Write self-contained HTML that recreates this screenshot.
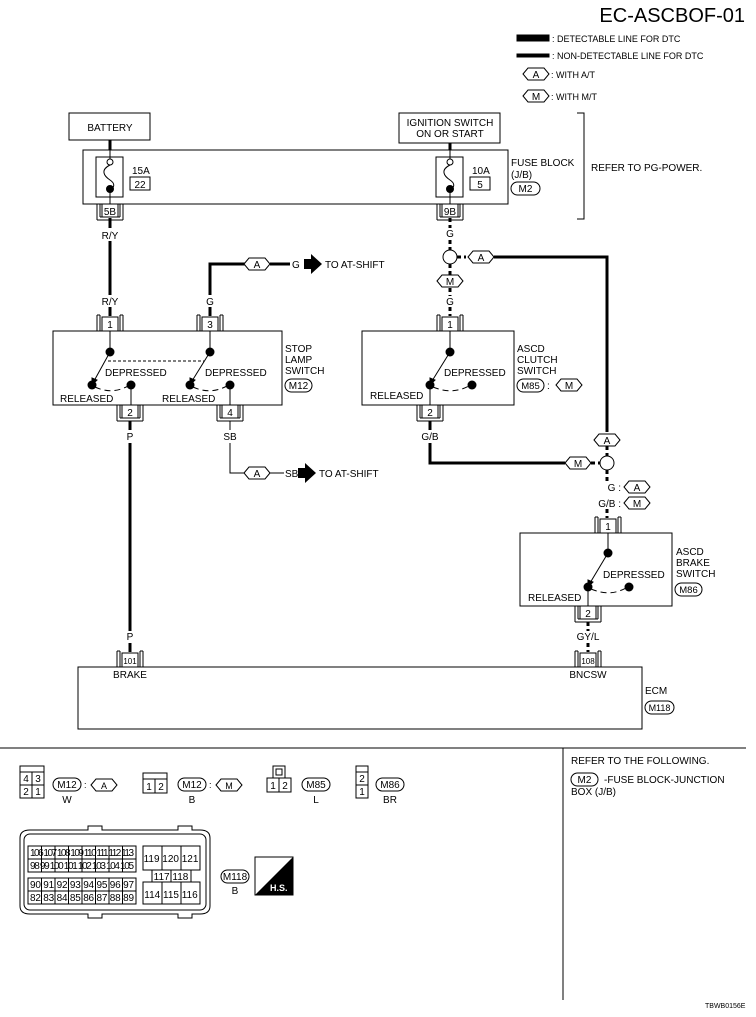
<!DOCTYPE html>
<html><head><meta charset="utf-8"><style>
html,body{margin:0;padding:0;background:#fff}
svg{display:block}
text{font-family:"Liberation Sans",Arial,sans-serif;font-size:10px;fill:#000}
</style></head><body>
<svg width="756" height="1017" viewBox="0 0 756 1017" xmlns="http://www.w3.org/2000/svg">
<defs>
<g id="hx"><polygon points="-13,0 -8,-6 8,-6 13,0 8,6 -8,6" fill="#fff" stroke="#000" stroke-width="1"/></g>
<g id="ctop"><path d="M-13,-16 V0 M-10,-16 V0 M13,-16 V0 M10,-16 V0 M-13,-16 H-10 M10,-16 H13" fill="none" stroke="#000" stroke-width="1"/><rect x="-8" y="-14" width="16" height="14" fill="#fff" stroke="#000"/></g>
<g id="cbot"><path d="M-13,0 V16 M-10,0 V13 M13,0 V16 M10,0 V13 M-13,16 H13 M-10,13 H10" fill="none" stroke="#000" stroke-width="1"/><rect x="-8" y="0" width="16" height="13" fill="#fff" stroke="#000"/></g>
</defs>
<g stroke="#000" fill="none">
<rect x="517" y="35" width="32" height="6" fill="#000"/>
<rect x="517" y="54" width="32" height="3" fill="#000"/>
<rect x="69" y="113" width="81" height="27"/>
<rect x="399" y="113" width="101" height="30"/>
<line x1="110" y1="140" x2="110" y2="150" stroke-width="3"/>
<line x1="450" y1="143" x2="450" y2="150" stroke-width="3"/>
<rect x="83" y="150" width="425" height="54"/>
<rect x="96" y="157" width="27" height="40"/>
<rect x="436" y="157" width="27" height="40"/>
<rect x="130" y="177" width="20" height="13"/>
<rect x="470" y="177" width="20" height="13"/>
<line x1="110" y1="150" x2="110" y2="160"/><line x1="110" y1="189" x2="110" y2="204"/>
<line x1="450" y1="150" x2="450" y2="160"/><line x1="450" y1="189" x2="450" y2="204"/>
<circle cx="110" cy="162" r="3" fill="#fff"/><circle cx="110" cy="189" r="3.5" fill="#000"/>
<circle cx="450" cy="162" r="3" fill="#fff"/><circle cx="450" cy="189" r="3.5" fill="#000"/>
<path d="M110,165 C100,170 104,176 110,180 C116,184 114,188 110,189"/>
<path d="M450,165 C440,170 444,176 450,180 C456,184 454,188 450,189"/>
<rect x="511" y="182" width="29" height="13" rx="6.5"/>
<path d="M577,113 H584 V219 H577"/>
<line x1="110" y1="218" x2="110" y2="228" stroke-width="3"/>
<line x1="110" y1="241" x2="110" y2="295" stroke-width="3"/>
<line x1="110" y1="307" x2="110" y2="316" stroke-width="3"/>
<path d="M210,295 V264 H245" stroke-width="3"/>
<line x1="270" y1="264" x2="290" y2="264" stroke-width="3"/>
<line x1="210" y1="307" x2="210" y2="316" stroke-width="3"/>
<rect x="53" y="331" width="229" height="74"/>
<line x1="110" y1="331" x2="110" y2="352"/><line x1="210" y1="331" x2="210" y2="352"/>
<line x1="108" y1="361" x2="204" y2="361" stroke-dasharray="3,2"/>
<line x1="110" y1="352" x2="94" y2="381"/><polygon points="92,385 92,378 97,380" fill="#000"/>
<line x1="210" y1="352" x2="192" y2="381"/><polygon points="190,385 190,378 195,380" fill="#000"/>
<path d="M95,387 Q112,395 128,386" stroke-dasharray="6,4"/>
<path d="M193,387 Q210,395 227,386" stroke-dasharray="6,4"/>
<line x1="131" y1="385" x2="131" y2="405"/><line x1="230" y1="385" x2="230" y2="405"/>
<line x1="130" y1="421" x2="130" y2="430" stroke-width="3"/>
<line x1="130" y1="443" x2="130" y2="631" stroke-width="3"/>
<line x1="130" y1="643" x2="130" y2="652" stroke-width="3"/>
<line x1="230" y1="421" x2="230" y2="430"/>
<path d="M230,443 V473 H245"/>
<line x1="270" y1="473" x2="284" y2="473"/>
<line x1="450" y1="218" x2="450" y2="228" stroke-width="3" stroke-dasharray="4,3"/>
<line x1="450" y1="240" x2="450" y2="250" stroke-width="3" stroke-dasharray="4,3"/>
<circle cx="450" cy="257" r="7"/>
<line x1="457" y1="257" x2="466" y2="257" stroke-width="3" stroke-dasharray="4,3"/>
<path d="M494,257 H607 V432" stroke-width="3"/>
<line x1="450" y1="264" x2="450" y2="275" stroke-width="3" stroke-dasharray="4,3"/>
<line x1="450" y1="288" x2="450" y2="296" stroke-width="3" stroke-dasharray="4,3"/>
<line x1="450" y1="307" x2="450" y2="316" stroke-width="3" stroke-dasharray="4,3"/>
<rect x="362" y="331" width="152" height="74"/>
<line x1="450" y1="331" x2="450" y2="352"/>
<line x1="450" y1="352" x2="432" y2="381"/><polygon points="430,385 430,378 435,380" fill="#000"/>
<path d="M433,387 Q452,395 469,386" stroke-dasharray="6,4"/>
<line x1="430" y1="385" x2="430" y2="405"/>
<rect x="517" y="379" width="27" height="13" rx="6.5"/>
<line x1="430" y1="421" x2="430" y2="430" stroke-width="3"/>
<path d="M430,443 V463 H565" stroke-width="3"/>
<line x1="591" y1="463" x2="600" y2="463" stroke-width="3" stroke-dasharray="4,3"/>
<line x1="607" y1="446" x2="607" y2="456" stroke-width="3" stroke-dasharray="4,3"/>
<circle cx="607" cy="463" r="7"/>
<line x1="607" y1="470" x2="607" y2="481" stroke-width="3" stroke-dasharray="4,3"/>
<line x1="607" y1="509" x2="607" y2="518" stroke-width="3" stroke-dasharray="4,3"/>
<rect x="520" y="533" width="152" height="73"/>
<line x1="608" y1="533" x2="608" y2="553"/>
<line x1="608" y1="553" x2="590" y2="583"/><polygon points="588,587 588,580 593,582" fill="#000"/>
<path d="M591,589 Q610,597 626,588" stroke-dasharray="6,4"/>
<line x1="588" y1="587" x2="588" y2="606"/>
<rect x="675" y="583" width="27" height="13" rx="6.5"/>
<line x1="588" y1="622" x2="588" y2="631" stroke-width="3" stroke-dasharray="4,3"/>
<line x1="588" y1="643" x2="588" y2="652" stroke-width="3" stroke-dasharray="4,3"/>
<rect x="78" y="667" width="564" height="62"/>
<rect x="645" y="701" width="29" height="13" rx="6.5"/>
<line x1="0" y1="748" x2="746" y2="748"/>
<line x1="563" y1="748" x2="563" y2="1000"/>
<rect x="571" y="773" width="27" height="13" rx="6.5"/>
</g>
<g fill="#000">
<circle cx="110" cy="352" r="4.5"/><circle cx="92" cy="385" r="4.5"/><circle cx="131" cy="385" r="4.5"/>
<circle cx="210" cy="352" r="4.5"/><circle cx="190" cy="385" r="4.5"/><circle cx="230" cy="385" r="4.5"/>
<circle cx="450" cy="352" r="4.5"/><circle cx="430" cy="385" r="4.5"/><circle cx="472" cy="385" r="4.5"/>
<circle cx="608" cy="553" r="4.5"/><circle cx="588" cy="587" r="4.5"/><circle cx="629" cy="587" r="4.5"/>
<polygon points="304,259 311,259 311,254 322,264 311,274 311,269 304,269"/>
<polygon points="298,468 305,468 305,463 316,473 305,483 305,478 298,478"/>
</g>
<use href="#cbot" x="110" y="204"/><use href="#cbot" x="450" y="204"/>
<use href="#ctop" x="110" y="331"/><use href="#ctop" x="210" y="331"/><use href="#ctop" x="450" y="331"/>
<use href="#cbot" x="130" y="405"/><use href="#cbot" x="230" y="405"/><use href="#cbot" x="430" y="405"/>
<use href="#ctop" x="608" y="533"/><use href="#cbot" x="588" y="606"/>
<use href="#ctop" x="130" y="667"/><use href="#ctop" x="588" y="667"/>
<use href="#hx" x="536" y="74"/><use href="#hx" x="536" y="96"/>
<use href="#hx" x="257" y="264"/><use href="#hx" x="257" y="473"/>
<use href="#hx" x="481" y="257"/><use href="#hx" x="450" y="281"/>
<use href="#hx" x="569" y="385"/><use href="#hx" x="607" y="440"/><use href="#hx" x="578" y="463"/>
<use href="#hx" x="637" y="487"/><use href="#hx" x="637" y="503"/>
<g text-anchor="middle">
<text x="536" y="78">A</text><text x="536" y="100">M</text>
<text x="257" y="268">A</text><text x="257" y="477">A</text><text x="481" y="261">A</text><text x="450" y="285">M</text>
<text x="569" y="389">M</text><text x="607" y="444">A</text><text x="578" y="467">M</text>
<text x="637" y="491">A</text><text x="637" y="507">M</text>
<text x="110" y="131">BATTERY</text>
<text x="450" y="126">IGNITION SWITCH</text><text x="450" y="137">ON OR START</text>
<text x="140" y="188">22</text><text x="480" y="188">5</text>
<text x="110" y="215">5B</text><text x="450" y="215">9B</text>
<text x="110" y="239">R/Y</text><text x="110" y="305">R/Y</text><text x="210" y="305">G</text>
<text x="450" y="237">G</text><text x="450" y="305">G</text>
<text x="110" y="328">1</text><text x="210" y="328">3</text><text x="450" y="328">1</text>
<text x="130" y="416">2</text><text x="230" y="416">4</text><text x="430" y="416">2</text>
<text x="130" y="440">P</text><text x="230" y="440">SB</text><text x="430" y="440">G/B</text>
<text x="608" y="530">1</text><text x="588" y="617">2</text>
<text x="588" y="640">GY/L</text><text x="130" y="640">P</text>
<text x="130" y="664" style="font-size:8px">101</text><text x="588" y="664" style="font-size:8px">108</text>
<text x="130" y="678">BRAKE</text><text x="588" y="678">BNCSW</text>
<text x="530.5" y="389" style="font-size:9.5px">M85</text><text x="688.5" y="593" style="font-size:9.5px">M86</text>
<text x="659.5" y="711" style="font-size:9px">M118</text>
<text x="525.5" y="192">M2</text><text x="584.5" y="783">M2</text>
</g>
<text x="745" y="22" text-anchor="end" style="font-size:20px">EC-ASCBOF-01</text>
<text x="552" y="42" style="font-size:9px">: DETECTABLE LINE FOR DTC</text>
<text x="552" y="59" style="font-size:9px">: NON-DETECTABLE LINE FOR DTC</text>
<text x="551" y="78" style="font-size:9px">: WITH A/T</text>
<text x="551" y="100" style="font-size:9px">: WITH M/T</text>
<text x="132" y="174">15A</text><text x="472" y="174">10A</text>
<text x="511" y="166">FUSE BLOCK</text><text x="511" y="178">(J/B)</text>
<text x="591" y="171">REFER TO PG-POWER.</text>
<text x="292" y="268">G</text><text x="325" y="268">TO AT-SHIFT</text>
<text x="285" y="477">SB</text><text x="319" y="477">TO AT-SHIFT</text>
<text x="285" y="352">STOP</text><text x="285" y="363">LAMP</text><text x="285" y="374">SWITCH</text>
<rect x="285" y="379" width="27" height="13" rx="6.5" fill="none" stroke="#000"/><text x="298.5" y="389" text-anchor="middle">M12</text>
<text x="105" y="376">DEPRESSED</text><text x="205" y="376">DEPRESSED</text>
<text x="60" y="402">RELEASED</text><text x="162" y="402">RELEASED</text>
<text x="444" y="376">DEPRESSED</text><text x="370" y="399">RELEASED</text>
<text x="517" y="352">ASCD</text><text x="517" y="363">CLUTCH</text><text x="517" y="374">SWITCH</text>
<text x="547" y="389">:</text>
<text x="621" y="491" text-anchor="end">G :</text><text x="621" y="507" text-anchor="end">G/B :</text>
<text x="603" y="578">DEPRESSED</text><text x="528" y="601">RELEASED</text>
<text x="676" y="555">ASCD</text><text x="676" y="566">BRAKE</text><text x="676" y="577">SWITCH</text>
<text x="645" y="694">ECM</text>
<text x="571" y="764">REFER TO THE FOLLOWING.</text>
<text x="604" y="783">-FUSE BLOCK-JUNCTION</text><text x="571" y="795">BOX (J/B)</text>
<text x="705" y="1008" style="font-size:7px">TBWB0156E</text>
<g fill="none" stroke="#000">
<rect x="20" y="766" width="24" height="32"/><line x1="20" y1="772" x2="44" y2="772"/><line x1="20" y1="785" x2="44" y2="785"/><line x1="32" y1="772" x2="32" y2="798"/>
<rect x="53" y="778" width="28" height="13" rx="6.5"/>
<rect x="143" y="773" width="24" height="20"/><line x1="143" y1="779" x2="167" y2="779"/><line x1="155" y1="779" x2="155" y2="793"/>
<rect x="178" y="778" width="28" height="13" rx="6.5"/>
<rect x="267" y="778" width="24" height="14"/><line x1="279" y1="778" x2="279" y2="792"/><rect x="273" y="766" width="12" height="12"/><rect x="276" y="769" width="6" height="6"/>
<rect x="302" y="778" width="28" height="13" rx="6.5"/>
<rect x="356" y="766" width="12" height="32"/><line x1="356" y1="772" x2="368" y2="772"/><line x1="356" y1="785" x2="368" y2="785"/>
<rect x="376" y="778" width="28" height="13" rx="6.5"/>
<path d="M20,838 Q20,830 30,830 H88 V826 H102 V830 H178 V826 H192 V830 H200 Q210,830 210,838 V906 Q210,914 200,914 H192 V918 H178 V914 H102 V918 H88 V914 H30 Q20,914 20,906 Z"/>
<rect x="24" y="834" width="182" height="76" rx="6"/>
<rect x="28" y="846" width="108" height="26"/><line x1="28" y1="859" x2="136" y2="859"/>
<rect x="28" y="878" width="108" height="26"/><line x1="28" y1="891" x2="136" y2="891"/>
<rect x="143" y="846" width="57" height="24"/><rect x="152" y="870" width="39" height="12"/><rect x="143" y="882" width="57" height="22"/>
<line x1="162" y1="846" x2="162" y2="870"/><line x1="181" y1="846" x2="181" y2="870"/><line x1="171" y1="870" x2="171" y2="882"/>
<line x1="162" y1="882" x2="162" y2="904"/><line x1="181" y1="882" x2="181" y2="904"/>
<rect x="221" y="870" width="28" height="13" rx="6.5"/>
<rect x="255" y="857" width="38" height="38"/>
</g>
<g stroke="#000" stroke-width="1">
<line x1="41.5" y1="846" x2="41.5" y2="872"/><line x1="55" y1="846" x2="55" y2="872"/><line x1="68.5" y1="846" x2="68.5" y2="872"/><line x1="82" y1="846" x2="82" y2="872"/><line x1="95.5" y1="846" x2="95.5" y2="872"/><line x1="109" y1="846" x2="109" y2="872"/><line x1="122.5" y1="846" x2="122.5" y2="872"/>
<line x1="41.5" y1="878" x2="41.5" y2="904"/><line x1="55" y1="878" x2="55" y2="904"/><line x1="68.5" y1="878" x2="68.5" y2="904"/><line x1="82" y1="878" x2="82" y2="904"/><line x1="95.5" y1="878" x2="95.5" y2="904"/><line x1="109" y1="878" x2="109" y2="904"/><line x1="122.5" y1="878" x2="122.5" y2="904"/>
</g>
<polygon points="293,857 293,895 255,895" fill="#000"/>
<text x="270" y="891" style="font-size:9px;font-weight:bold;fill:#fff">H.S.</text>
<g text-anchor="middle" style="font-size:9px">
<text x="26" y="782">4</text><text x="38" y="782">3</text><text x="26" y="795">2</text><text x="38" y="795">1</text>
<text x="67" y="788">M12</text><text x="67" y="803">W</text>
<text x="149" y="790">1</text><text x="161" y="790">2</text>
<text x="192" y="788">M12</text><text x="192" y="803">B</text>
<text x="273" y="789">1</text><text x="285" y="789">2</text>
<text x="316" y="788">M85</text><text x="316" y="803">L</text>
<text x="362" y="782">2</text><text x="362" y="795">1</text>
<text x="390" y="788">M86</text><text x="390" y="803">BR</text>
<text x="235" y="880">M118</text><text x="235" y="894">B</text>
<text x="171" y="862">119   120   121</text><text x="171" y="880">117  118</text><text x="171" y="898">114   115   116</text>
</g>
<text x="84" y="788" style="font-size:9px">:</text><text x="209" y="788" style="font-size:9px">:</text>
<use href="#hx" x="104" y="785"/><use href="#hx" x="229" y="785"/>
<text x="104" y="789" text-anchor="middle" style="font-size:9px">A</text><text x="229" y="789" text-anchor="middle" style="font-size:9px">M</text>
<g style="font-size:7px" text-anchor="middle">
<text x="82" y="856" textLength="104">106 107 108 109 110 111 112 113</text>
<text x="82" y="869" textLength="104">98 99 100 101 102 103 104 105</text>
<text x="82" y="888" textLength="104">90 91 92 93 94 95 96 97</text>
<text x="82" y="901" textLength="104">82 83 84 85 86 87 88 89</text>
</g>
</svg>
</body></html>
